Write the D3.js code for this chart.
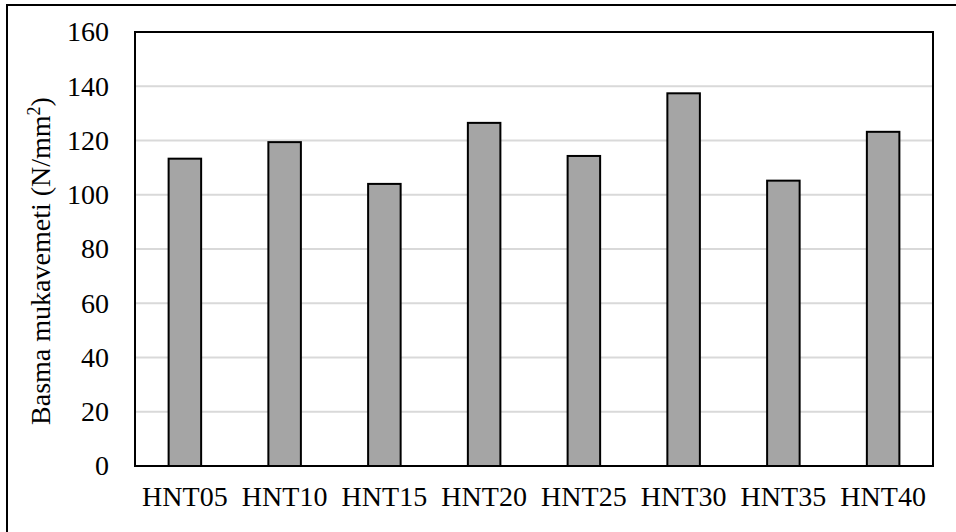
<!DOCTYPE html>
<html>
<head>
<meta charset="utf-8">
<script src="https://cdn.jsdelivr.net/npm/d3@7"></script>
<style>
  html, body { margin: 0; padding: 0; background: #fff; }
  svg { display: block; }
  svg text { font-family: "Liberation Serif", "Times New Roman", Tinos, serif; fill: #000; }
</style>
</head>
<body>
<svg id="chart" width="956" height="532"></svg>
<script>
// Compressive strength per mix
const categories = ["HNT05", "HNT10", "HNT15", "HNT20", "HNT25", "HNT30", "HNT35", "HNT40"];
const strength = [113.3, 119.4, 104.0, 126.5, 114.3, 137.4, 105.2, 123.2];
const yTicks = [0, 20, 40, 60, 80, 100, 120, 140, 160];
const yTitle = "Basma mukavemeti (N/mm";

const svg = d3.select("#chart");
const plot = { left: 135, right: 933, top: 32, bottom: 466 };
const fontSize = 28;

// outer frame
svg.append("rect")
  .attr("x", 7).attr("y", 5)
  .attr("width", 960).attr("height", 540)
  .attr("fill", "#fff").attr("stroke", "#000").attr("stroke-width", 2);

const x = d3.scaleBand()
  .domain(categories)
  .range([plot.left, plot.right])
  .paddingInner(0.674)
  .paddingOuter(0.337);

const y = d3.scaleLinear()
  .domain([0, 160])
  .range([plot.bottom, plot.top]);

// gridlines
svg.append("g")
  .selectAll("line")
  .data(yTicks.filter(d => d > 0 && d < 160))
  .join("line")
  .attr("x1", plot.left).attr("x2", plot.right)
  .attr("y1", d => y(d)).attr("y2", d => y(d))
  .attr("stroke", "#d9d9d9").attr("stroke-width", 2);

// bars
svg.append("g")
  .selectAll("rect")
  .data(categories)
  .join("rect")
  .attr("x", d => x(d))
  .attr("width", x.bandwidth())
  .attr("y", (d, i) => y(strength[i]))
  .attr("height", (d, i) => y(0) - y(strength[i]))
  .attr("fill", "#a5a5a5")
  .attr("stroke", "#000")
  .attr("stroke-width", 2);

// plot frame
svg.append("rect")
  .attr("x", plot.left).attr("y", plot.top)
  .attr("width", plot.right - plot.left)
  .attr("height", plot.bottom - plot.top)
  .attr("fill", "none").attr("stroke", "#000").attr("stroke-width", 2);

// y axis labels
const yAxis = d3.axisLeft(y).tickValues(yTicks).tickSize(0).tickPadding(26);
const gy = svg.append("g")
  .attr("transform", `translate(${plot.left},0)`)
  .call(yAxis)
  .attr("font-family", null);
gy.select(".domain").remove();
gy.selectAll("text").attr("font-size", fontSize).attr("fill", "#000");

// x axis labels
const xAxis = d3.axisBottom(x).tickSize(0).tickPadding(20);
const gx = svg.append("g")
  .attr("transform", `translate(0,${plot.bottom})`)
  .call(xAxis)
  .attr("font-family", null);
gx.select(".domain").remove();
gx.selectAll("text").attr("font-size", fontSize).attr("fill", "#000");

// y axis title
const title = svg.append("text")
  .attr("transform", "translate(50,261) rotate(-90)")
  .attr("text-anchor", "middle")
  .attr("font-size", fontSize);
title.append("tspan").text(yTitle);
title.append("tspan").attr("baseline-shift", "super").attr("font-size", 18).text("2");
title.append("tspan").text(")");
</script>
</body>
</html>
